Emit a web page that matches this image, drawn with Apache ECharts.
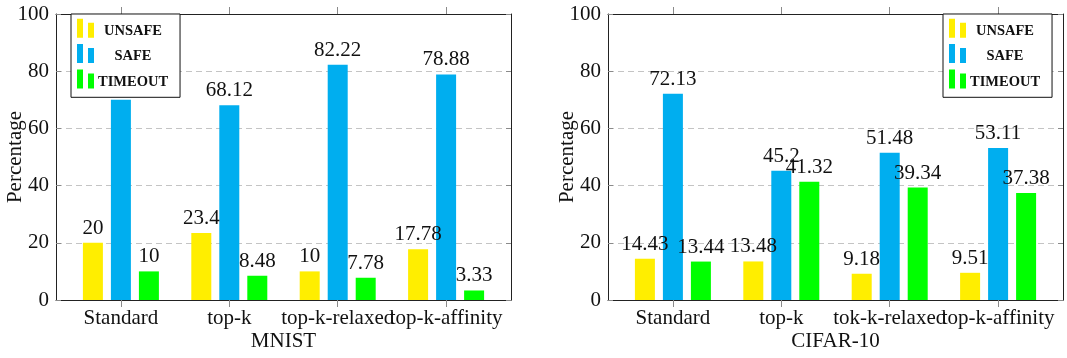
<!DOCTYPE html>
<html>
<head>
<meta charset="utf-8">
<script src="https://cdn.jsdelivr.net/npm/echarts@6/dist/echarts.min.js"></script>
<style>
  html, body { margin: 0; padding: 0; background: #fff; }
  #chart { width: 1067px; height: 358px; }
</style>
</head>
<body>
<div id="chart"></div>
<script>
// Verification outcome percentages per method, for MNIST and CIFAR-10.
const seriesNames = ['UNSAFE', 'SAFE', 'TIMEOUT'];

const mnistCategories = ['Standard', 'top-k', 'top-k-relaxed', 'top-k-affinity'];
const mnistUnsafe  = [20, 23.4, 10, 17.78];
const mnistSafe    = [70, 68.12, 82.22, 78.88];
const mnistTimeout = [10, 8.48, 7.78, 3.33];

const cifarCategories = ['Standard', 'top-k', 'tok-k-relaxed', 'top-k-affinity'];
const cifarUnsafe  = [14.43, 13.48, 9.18, 9.51];
const cifarSafe    = [72.13, 45.2, 51.48, 53.11];
const cifarTimeout = [13.44, 41.32, 39.34, 37.38];

const datasetNames = ['MNIST', 'CIFAR-10'];

// Styling
const FONT = 'Liberation Serif';
const FS = 21;
const COLORS = ['#FFEE00', '#00AEEF', '#00FF00'];
const FRAME = '#222';
const TICK = '#8a8a8a';

// Plot box geometry: the category bands are inset from the frame on both sides.
const FRAME_W = 455, TOP = 14, PLOT_H = 286, INSET = 10.7;

const chart = echarts.init(document.getElementById('chart'), null, { renderer: 'canvas' });

const panels = [
  { left: 56,  cats: mnistCategories, values: [mnistUnsafe, mnistSafe, mnistTimeout], name: datasetNames[0], legendLeft: 71 },
  { left: 608, cats: cifarCategories, values: [cifarUnsafe, cifarSafe, cifarTimeout], name: datasetNames[1], legendLeft: 943 }
];

const grids = [], xAxes = [], yAxes = [], series = [], legends = [];

panels.forEach((p, pi) => {
  const frameGrid = grids.length;
  grids.push({ left: p.left, top: TOP, width: FRAME_W, height: PLOT_H, containLabel: false, outerBoundsMode: 'none' });
  const barGrid = grids.length;
  grids.push({ left: p.left + INSET, top: TOP, width: FRAME_W - 2 * INSET, height: PLOT_H, containLabel: false, outerBoundsMode: 'none' });

  // frame: bottom edge carries the dataset name
  xAxes.push({
    type: 'value', gridIndex: frameGrid, position: 'bottom', min: 0, max: 1,
    name: p.name, nameLocation: 'middle', nameGap: 31, nameMoveOverlap: false,
    nameTextStyle: { fontFamily: FONT, fontSize: FS, color: '#111' },
    axisLine: { show: true, onZero: false, lineStyle: { color: FRAME, width: 1 } },
    axisTick: { show: false }, axisLabel: { show: false }, splitLine: { show: false }
  });
  // frame: top edge
  xAxes.push({
    type: 'value', gridIndex: frameGrid, position: 'top', min: 0, max: 1,
    axisLine: { show: true, onZero: false, lineStyle: { color: FRAME, width: 1 } },
    axisTick: { show: false }, axisLabel: { show: false }, splitLine: { show: false }
  });
  // frame: left value axis with dashed grid
  yAxes.push({
    type: 'value', gridIndex: frameGrid, position: 'left',
    min: 0, max: 100, interval: 20,
    name: 'Percentage', nameLocation: 'middle', nameGap: 30, nameMoveOverlap: false,
    nameTextStyle: { fontFamily: FONT, fontSize: FS, color: '#111' },
    axisLine: { show: true, onZero: false, lineStyle: { color: FRAME, width: 1 } },
    axisTick: { show: true, inside: true, length: 5, lineStyle: { color: TICK } },
    axisLabel: { margin: 7, fontFamily: FONT, fontSize: FS, color: '#111' },
    splitLine: { show: true, lineStyle: { color: '#c4c4c4', type: [6, 4], width: 1 } }
  });
  // frame: right edge
  yAxes.push({
    type: 'value', gridIndex: frameGrid, position: 'right',
    min: 0, max: 100, interval: 20,
    axisLine: { show: true, onZero: false, lineStyle: { color: FRAME, width: 1 } },
    axisTick: { show: true, inside: true, length: 5, lineStyle: { color: TICK } },
    axisLabel: { show: false }, splitLine: { show: false }
  });

  // bars: method categories
  const barX = xAxes.length;
  xAxes.push({
    type: 'category', gridIndex: barGrid, position: 'bottom', data: p.cats,
    axisLine: { show: false },
    axisTick: { show: true, inside: false, length: 7, alignWithLabel: true, interval: 0, lineStyle: { color: TICK } },
    axisLabel: { interval: 0, margin: 8, fontFamily: FONT, fontSize: FS, color: '#111' },
    splitLine: { show: false }
  });
  xAxes.push({
    type: 'category', gridIndex: barGrid, position: 'top', data: p.cats,
    axisLine: { show: false },
    axisTick: { show: true, inside: false, length: 7, alignWithLabel: true, interval: 0, lineStyle: { color: TICK } },
    axisLabel: { show: false }, splitLine: { show: false }
  });
  const barY = yAxes.length;
  yAxes.push({
    type: 'value', gridIndex: barGrid, min: 0, max: 100, interval: 20, show: false,
    splitLine: { show: false }
  });

  p.values.forEach((vals, si) => {
    series.push({
      type: 'bar', name: seriesNames[si],
      xAxisIndex: barX, yAxisIndex: barY,
      barWidth: 20, barGap: '40%',
      itemStyle: { color: COLORS[si] },
      label: {
        show: true, position: 'top', distance: 4,
        fontFamily: FONT, fontSize: FS, color: '#111'
      },
      data: vals
    });
  });

  legends.push({
    orient: 'vertical', left: p.legendLeft, top: TOP,
    data: seriesNames,
    backgroundColor: '#fff', borderColor: '#111', borderWidth: 1,
    padding: [3.8, 12, 7.9, 6],
    itemWidth: 17, itemHeight: 19, itemGap: 4.3,
    icon: 'path://M0,0h6v19h-6z M11,4h6v15h-6z',
    selectedMode: false,
    formatter: n => '{c|' + n + '}',
    textStyle: {
      fontFamily: FONT, fontSize: 14.5, fontWeight: 'bold', color: '#111',
      rich: {
        c: {
          width: 68, align: 'center', lineHeight: 15, padding: [6, 0, 0, 0],
          fontFamily: FONT, fontSize: 14.5, fontWeight: 'bold', color: '#111'
        }
      }
    }
  });
});

chart.setOption({
  animation: false,
  color: COLORS,
  grid: grids,
  xAxis: xAxes,
  yAxis: yAxes,
  legend: legends,
  series: series
});
</script>
</body>
</html>
